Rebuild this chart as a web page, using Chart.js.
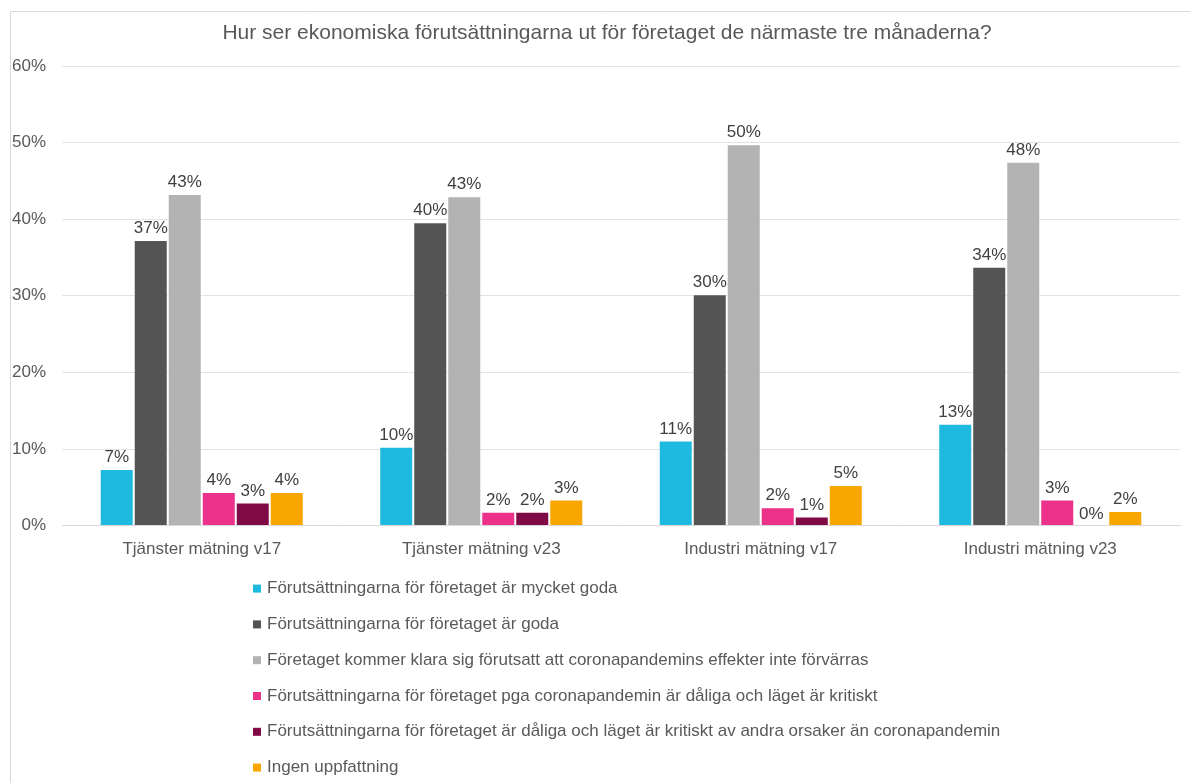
<!DOCTYPE html>
<html>
<head>
<meta charset="utf-8">
<script src="https://cdn.jsdelivr.net/npm/chart.js@4/dist/chart.umd.min.js"></script>
<style>
  html, body { margin: 0; padding: 0; background: #fff; }
  #wrap { width: 1190px; height: 783px; }
</style>
</head>
<body>
<div id="wrap"><canvas id="myChart" width="1190" height="783"></canvas></div>
<script>
const chartTitle = 'Hur ser ekonomiska förutsättningarna ut för företaget de närmaste tre månaderna?';
const categories = ['Tjänster mätning v17', 'Tjänster mätning v23', 'Industri mätning v17', 'Industri mätning v23'];
const seriesNames = [
  'Förutsättningarna för företaget är mycket goda',
  'Förutsättningarna för företaget är goda',
  'Företaget kommer klara sig förutsatt att coronapandemins effekter inte förvärras',
  'Förutsättningarna för företaget pga coronapandemin är dåliga och läget är kritiskt',
  'Förutsättningarna för företaget är dåliga och läget är kritiskt av andra orsaker än coronapandemin',
  'Ingen uppfattning'
];
const mycketGoda = [7.4, 10.3, 11.1, 13.3];
const goda = [37.3, 39.6, 30.2, 33.8];
const klaraSig = [43.3, 43.0, 49.8, 47.5];
const daligaCorona = [4.4, 1.8, 2.4, 3.4];
const daligaAndra = [3.0, 1.8, 1.2, 0];
const ingen = [4.4, 3.4, 5.3, 1.9];
const yTicks = [0, 10, 20, 30, 40, 50, 60];

const colors = ['#1eb9df', '#545454', '#b3b3b3', '#ec318a', '#7f0a45', '#f9a600'];
const allValues = [mycketGoda, goda, klaraSig, daligaCorona, daligaAndra, ingen];
const FONT = "'Liberation Sans', Arial, sans-serif";
const TXT = '#595959';

// frame, title, value labels and the vertical legend
const extras = {
  id: 'extras',
  beforeDraw(chart) {
    const c = chart.ctx;
    c.save();
    c.strokeStyle = '#d9d9d9';
    c.lineWidth = 1;
    c.beginPath();
    c.moveTo(10.5, 783);
    c.lineTo(10.5, 11.5);
    c.lineTo(1190, 11.5);
    c.stroke();
    c.font = '21px ' + FONT;
    c.fillStyle = TXT;
    c.textAlign = 'center';
    c.textBaseline = 'middle';
    c.fillText(chartTitle, 607, 33);
    c.restore();
  },
  afterDatasetsDraw(chart) {
    const c = chart.ctx;
    c.save();
    c.font = '17px ' + FONT;
    c.fillStyle = '#404040';
    c.textAlign = 'center';
    c.textBaseline = 'bottom';
    chart.data.datasets.forEach((ds, i) => {
      chart.getDatasetMeta(i).data.forEach((bar, j) => {
        c.fillText(Math.round(ds.data[j]) + '%', bar.x, bar.y - 3);
      });
    });
    // legend
    const top = chart.chartArea.bottom + 63;
    c.textAlign = 'left';
    c.textBaseline = 'middle';
    chart.data.datasets.forEach((ds, i) => {
      const y = top + i * 35.8;
      c.fillStyle = ds.backgroundColor;
      c.fillRect(253, y - 4, 8, 8);
      c.fillStyle = TXT;
      c.fillText(ds.label, 267, y);
    });
    c.restore();
  }
};

const ctx = document.getElementById('myChart').getContext('2d');
const data = {
  labels: categories,
  datasets: allValues.map((vals, i) => ({
    label: seriesNames[i],
    data: vals,
    backgroundColor: colors[i],
    borderColor: 'rgba(255,255,255,0.35)',
    borderWidth: 1
  }))
};
const config = {
  type: 'bar',
  data: data,
  options: {
    responsive: false,
    animation: false,
    layout: { padding: { left: 12, right: 10, top: 66, bottom: 217 } },
    datasets: { bar: { categoryPercentage: 0.73, barPercentage: 1 } },
    plugins: {
      legend: { display: false },
      tooltip: { enabled: false },
      title: { display: false }
    },
    scales: {
      x: {
        grid: { display: false },
        border: { color: '#d9d9d9' },
        ticks: { color: TXT, font: { size: 17, family: FONT }, padding: 6 }
      },
      y: {
        min: 0,
        max: 60,
        afterBuildTicks: axis => { axis.ticks = yTicks.map(v => ({ value: v })); },
        afterFit: axis => { axis.width = 50; },
        grid: { color: '#e3e3e3', drawTicks: false },
        border: { display: false },
        ticks: {
          color: TXT,
          font: { size: 17, family: FONT },
          padding: 16,
          callback: v => v + '%'
        }
      }
    }
  },
  plugins: [extras]
};
const myChart = new Chart(ctx, config);
</script>
</body>
</html>
